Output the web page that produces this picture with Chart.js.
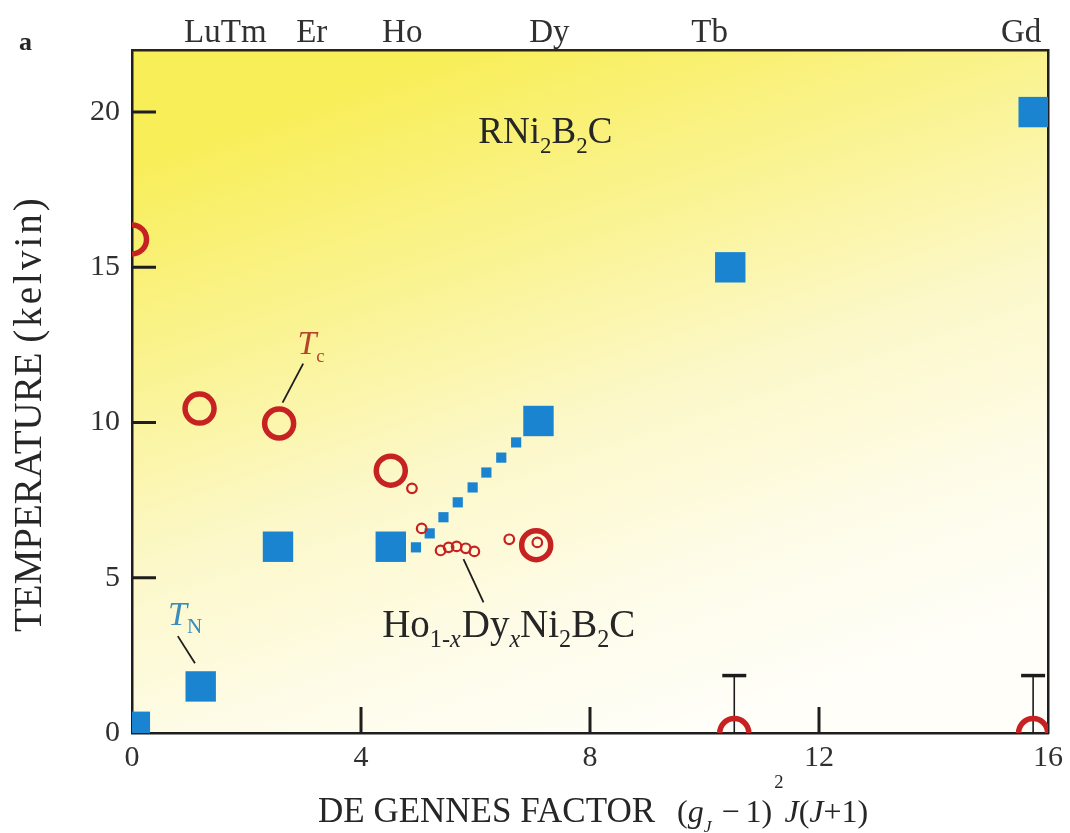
<!DOCTYPE html>
<html>
<head>
<meta charset="utf-8">
<script src="https://cdn.jsdelivr.net/npm/chart.js@4/dist/chart.umd.min.js"></script>
<style>
  html, body { margin: 0; padding: 0; background: #ffffff; }
  #wrap { width: 1070px; height: 833px; position: relative; }
</style>
</head>
<body>
<div id="wrap"><canvas id="c" width="1070" height="833"></canvas></div>
<script>
// Néel temperatures T_N of RNi2B2C (de Gennes factor, kelvin)
const tnX = [0.05, 1.2, 2.55, 4.52, 7.1, 10.45, 15.75];
const tnY = [0.2, 1.5, 6.0, 6.0, 10.05, 15.0, 20.0];
// Superconducting transition temperatures T_c of RNi2B2C
const tcX = [0, 1.18, 2.57, 4.52, 7.06, 10.52, 15.74];
const tcY = [15.9, 10.45, 9.97, 8.45, 6.05, 0, 0];
// Ho(1-x)Dy(x)Ni2B2C series: T_N and T_c
const alloyTnX = [4.96, 5.2, 5.44, 5.69, 5.95, 6.19, 6.45, 6.71];
const alloyTnY = [5.98, 6.43, 6.95, 7.43, 7.91, 8.39, 8.87, 9.36];
const alloyTcX = [4.89, 5.06, 5.39, 5.53, 5.67, 5.83, 5.98, 6.59, 7.08];
const alloyTcY = [7.88, 6.59, 5.88, 5.98, 6.01, 5.95, 5.85, 6.24, 6.14];
// Upper limits on T_c (no superconductivity above the bar)
const limitX = [10.52, 15.74];
const limitY = [1.85, 1.85];
// Axis ticks and rare-earth markers along the top edge
const xTicks = [0, 4, 8, 12, 16];
const yTicks = [0, 5, 10, 15, 20];
const innerXTicks = [4, 8, 12];
const innerYTicks = [5, 10, 15, 20];
const elementX = [1.63, 3.14, 4.72, 7.29, 10.09, 15.53];
const elementNames = ['LuTm', 'Er', 'Ho', 'Dy', 'Tb', 'Gd'];
// Leader lines for the labels, in data units [x1, y1, x2, y2]
const leaderTc = [2.99, 11.9, 2.63, 10.64];
const leaderTn = [0.8, 3.12, 1.1, 2.25];
const leaderAlloy = [5.79, 5.6, 6.14, 4.21];

const SERIF = '"Liberation Serif", "DejaVu Serif", serif';
const BLUE = '#1a84d0';
const RED = '#c62222';
const INK = '#262626';

const pts = (xs, ys) => xs.map((x, i) => ({ x: x, y: ys[i] }));
const seg = (s) => [{ x: s[0], y: s[1] }, { x: s[2], y: s[3] }];

function leader(s) {
  return {
    type: 'line', data: seg(s), borderColor: '#1c1c1c', borderWidth: 1.8,
    pointRadius: 0, showLine: true, order: 5
  };
}

function limitBar(i) {
  return {
    type: 'line', data: [{ x: limitX[i], y: 0 }, { x: limitX[i], y: limitY[i] }],
    borderColor: '#1c1c1c', borderWidth: 1.6, pointRadius: 0, showLine: true, order: 6
  };
}

// Draws a run of text with optional subscripts / superscripts / italics
function drawRich(ctx, x, y, size, parts, color) {
  ctx.save();
  ctx.fillStyle = color;
  ctx.textBaseline = 'alphabetic';
  ctx.textAlign = 'left';
  let cx = x;
  for (const p of parts) {
    const base = p.size || size;
    const s = p.sub || p.sup ? base * (p.scale || 0.62) : base;
    ctx.font = (p.it ? 'italic ' : '') + s + 'px ' + SERIF;
    const dy = p.sub ? base * (p.drop || 0.26) : (p.sup ? -base * (p.rise || 0.45) : 0);
    ctx.fillText(p.t, cx, y + dy);
    cx += ctx.measureText(p.t).width + (p.gap || 0);
  }
  ctx.restore();
}

// Keeps every mark inside the framed plot area
const plotClip = {
  id: 'plotClip',
  beforeDatasetsDraw(chart) {
    const { ctx, chartArea: a } = chart;
    ctx.save();
    ctx.beginPath();
    ctx.rect(a.left, a.top, a.right - a.left, a.bottom - a.top);
    ctx.clip();
  },
  afterDatasetsDraw(chart) {
    chart.ctx.restore();
  }
};

const decorations = {
  id: 'decorations',
  beforeDraw(chart) {
    const { ctx, chartArea: a } = chart;
    ctx.save();
    ctx.fillStyle = '#ffffff';
    ctx.fillRect(0, 0, chart.width, chart.height);
    const w = a.right - a.left;
    const g = ctx.createLinearGradient(a.left + 0.35 * w, a.top, a.left + 0.6 * w, a.bottom);
    g.addColorStop(0, '#f8ee58');
    g.addColorStop(0.28, '#faf390');
    g.addColorStop(0.55, '#fcf8ca');
    g.addColorStop(0.8, '#fefce9');
    g.addColorStop(1, '#fffef8');
    ctx.fillStyle = g;
    ctx.fillRect(a.left, a.top, w, a.bottom - a.top);
    ctx.restore();
  },
  afterDraw(chart) {
    const { ctx, chartArea: a } = chart;
    const xs = chart.scales.x, ys = chart.scales.y;
    ctx.save();
    // inward tick marks
    ctx.strokeStyle = '#1e1e1e';
    ctx.lineWidth = 3;
    ctx.beginPath();
    innerXTicks.forEach(v => {
      const px = xs.getPixelForValue(v);
      ctx.moveTo(px, a.bottom); ctx.lineTo(px, a.bottom - 26);
    });
    innerYTicks.forEach(v => {
      const py = ys.getPixelForValue(v);
      ctx.moveTo(a.left, py); ctx.lineTo(a.left + 24, py);
    });
    ctx.stroke();

    // panel letter
    ctx.fillStyle = INK;
    ctx.font = 'bold 26px ' + SERIF;
    ctx.textBaseline = 'alphabetic';
    ctx.fillText('a', 19, 50);

    // vertical axis title
    ctx.save();
    ctx.translate(31, 632);
    ctx.rotate(-Math.PI / 2);
    ctx.textAlign = 'left';
    ctx.textBaseline = 'middle';
    ctx.font = '39px ' + SERIF;
    ctx.fillStyle = INK;
    const head = 'TEMPERATURE ';
    ctx.fillText(head, 0, 0);
    let px = ctx.measureText(head).width;
    for (const ch of '(kelvin)') {
      ctx.fillText(ch, px, 0);
      px += ctx.measureText(ch).width + 3;
    }
    ctx.restore();

    // horizontal axis title
    drawRich(ctx, 318, 822, 32, [
      { t: 'DE GENNES FACTOR', size: 35, gap: 22 },
      { t: '(' },
      { t: 'g', it: true },
      { t: 'J', it: true, sub: true, scale: 0.55, drop: 0.3, gap: 10 },
      { t: '\u2212', gap: 6 },
      { t: '1)', gap: 2 },
      { t: '2', sup: true, scale: 0.58, rise: 1.05, gap: 1 },
      { t: 'J', it: true },
      { t: '(' },
      { t: 'J', it: true },
      { t: '+1)' }
    ], INK);

    // compound labels
    drawRich(ctx, xs.getPixelForValue(6.05), ys.getPixelForValue(19.0), 37, [
      { t: 'RNi' }, { t: '2', sub: true }, { t: 'B' }, { t: '2', sub: true }, { t: 'C' }
    ], INK);
    drawRich(ctx, xs.getPixelForValue(4.37), ys.getPixelForValue(3.09), 39, [
      { t: 'Ho' }, { t: '1-', sub: true }, { t: 'x', sub: true, it: true, gap: 1 },
      { t: 'Dy' }, { t: 'x', sub: true, it: true },
      { t: 'Ni' }, { t: '2', sub: true }, { t: 'B' }, { t: '2', sub: true }, { t: 'C' }
    ], INK);

    // series labels
    drawRich(ctx, xs.getPixelForValue(2.89), ys.getPixelForValue(12.2), 34, [
      { t: 'T', it: true }, { t: 'c', sub: true, scale: 0.55, drop: 0.22 }
    ], '#b5442a');
    drawRich(ctx, xs.getPixelForValue(0.63), ys.getPixelForValue(3.47), 34, [
      { t: 'T', it: true }, { t: 'N', sub: true, scale: 0.62, drop: 0.24 }
    ], '#3a8dbd');
    ctx.restore();
  }
};

const cfg = {
  type: 'scatter',
  data: {
    datasets: [
      {
        label: 'T_N', data: pts(tnX, tnY), pointStyle: 'rect', pointRadius: 21.5,
        backgroundColor: BLUE, borderColor: BLUE, borderWidth: 0, order: 1
      },
      {
        label: 'T_N alloy', data: pts(alloyTnX, alloyTnY), pointStyle: 'rect', pointRadius: 7.2,
        backgroundColor: BLUE, borderColor: BLUE, borderWidth: 0, order: 2
      },
      {
        label: 'T_c', data: pts(tcX, tcY), pointStyle: 'circle', pointRadius: 14.5,
        backgroundColor: 'rgba(0,0,0,0)', borderColor: RED, borderWidth: 5.5, order: 3
      },
      {
        label: 'T_c alloy', data: pts(alloyTcX, alloyTcY), pointStyle: 'circle', pointRadius: 4.8,
        backgroundColor: 'rgba(0,0,0,0)', borderColor: RED, borderWidth: 2.2, order: 0
      },
      {
        label: 'limit caps', data: pts(limitX, limitY), pointStyle: 'line', pointRadius: 12,
        borderColor: '#1c1c1c', borderWidth: 3.5, order: 4
      },
      limitBar(0),
      limitBar(1),
      leader(leaderTc),
      leader(leaderTn),
      leader(leaderAlloy)
    ]
  },
  options: {
    responsive: false,
    animation: false,
    devicePixelRatio: 1,
    layout: { padding: 0 },
    plugins: { legend: { display: false }, tooltip: { enabled: false } },
    scales: {
      x: {
        type: 'linear', position: 'bottom', min: 0, max: 16,
        afterBuildTicks: s => { s.ticks = xTicks.map(v => ({ value: v })); },
        afterFit: s => { s.height = 100; },
        grid: { display: false, drawTicks: false },
        border: { display: true, color: '#1e1e1e', width: 2.5 },
        ticks: { font: { family: SERIF, size: 30 }, color: '#303030', padding: 7, maxRotation: 0, autoSkip: false }
      },
      y: {
        type: 'linear', position: 'left', min: 0, max: 22,
        afterBuildTicks: s => { s.ticks = yTicks.map(v => ({ value: v })); },
        afterFit: s => { s.width = 132; },
        grid: { display: false, drawTicks: false },
        border: { display: true, color: '#1e1e1e', width: 2.5 },
        ticks: { font: { family: SERIF, size: 30 }, color: '#303030', padding: 12 }
      },
      x2: {
        type: 'linear', position: 'top', min: 0, max: 16,
        afterBuildTicks: s => { s.ticks = elementX.map(v => ({ value: v })); },
        afterFit: s => { s.height = 50; },
        grid: { display: false, drawTicks: false },
        border: { display: true, color: '#2a2418', width: 2.5 },
        ticks: {
          font: { family: SERIF, size: 33 }, color: '#303030', padding: -3,
          maxRotation: 0, minRotation: 0, autoSkip: false,
          callback: (v, i) => elementNames[i]
        }
      },
      y2: {
        type: 'linear', position: 'right', min: 0, max: 22,
        afterFit: s => { s.width = 18; },
        grid: { display: false, drawTicks: false },
        border: { display: true, color: '#1e1e1e', width: 2.5 },
        ticks: { display: false }
      }
    }
  },
  plugins: [plotClip, decorations]
};

new Chart(document.getElementById('c'), cfg);
</script>
</body>
</html>
